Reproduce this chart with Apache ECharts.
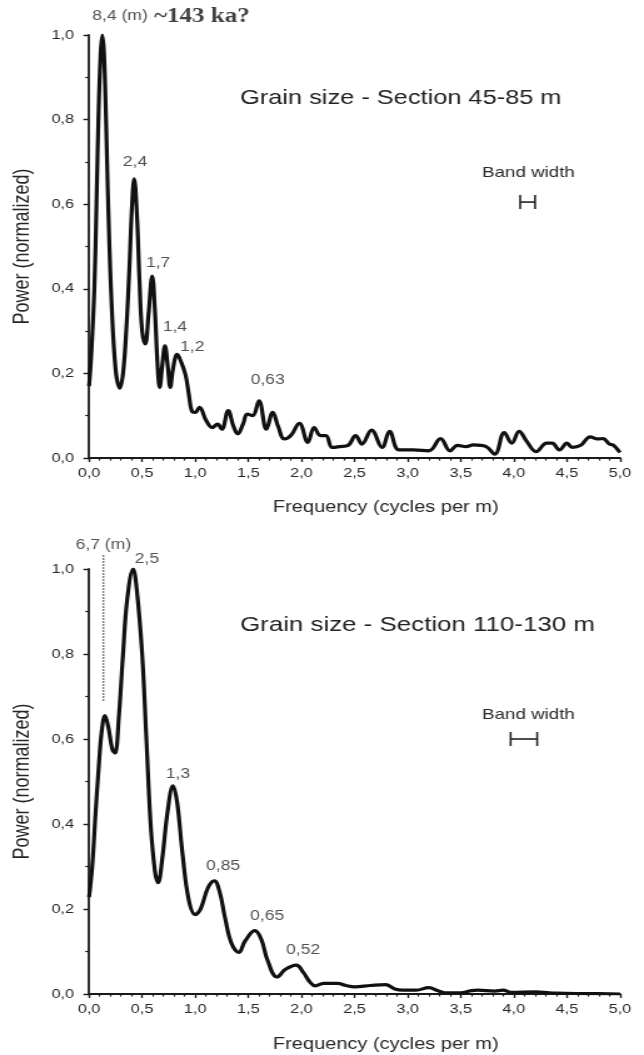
<!DOCTYPE html>
<html><head><meta charset="utf-8">
<script src="https://cdn.jsdelivr.net/npm/echarts@6/dist/echarts.min.js"></script>
<style>
html,body{margin:0;padding:0;background:#fff;overflow:hidden;}
#wrap{width:644px;height:1055px;overflow:hidden;}
#chart{width:515px;height:1055px;transform:scaleX(1.2505);transform-origin:0 0;}
</style></head><body><div id="wrap"><div id="chart"></div></div>
<script>
// ---------- DATA ----------
const freqTop = [0.00,0.02,0.05,0.07,0.09,0.11,0.125,0.14,0.16,0.18,0.21,0.25,0.29,0.32,0.35,0.38,0.405,0.425,0.45,0.475,0.50,0.53,0.56,0.595,0.62,0.645,0.665,0.69,0.715,0.74,0.765,0.79,0.83,0.87,0.91,0.94,0.97,1.00,1.04,1.10,1.16,1.21,1.25,1.31,1.36,1.40,1.45,1.49,1.54,1.60,1.67,1.73,1.78,1.84,1.90,1.98,2.06,2.12,2.18,2.23,2.29,2.36,2.44,2.51,2.57,2.66,2.76,2.83,2.92,3.05,3.20,3.31,3.40,3.47,3.55,3.62,3.74,3.82,3.91,3.98,4.05,4.12,4.21,4.31,4.36,4.43,4.50,4.55,4.63,4.72,4.79,4.84,4.90,4.94,5.00];
const powerTop = [0.17,0.24,0.40,0.60,0.82,0.96,1.00,0.96,0.80,0.60,0.38,0.21,0.165,0.20,0.30,0.45,0.60,0.66,0.58,0.42,0.30,0.27,0.34,0.43,0.35,0.22,0.167,0.22,0.265,0.22,0.167,0.21,0.245,0.225,0.195,0.15,0.11,0.108,0.12,0.09,0.072,0.08,0.068,0.112,0.075,0.057,0.08,0.104,0.10,0.135,0.068,0.108,0.075,0.045,0.053,0.082,0.037,0.072,0.053,0.053,0.025,0.027,0.03,0.053,0.033,0.066,0.025,0.063,0.019,0.019,0.017,0.046,0.017,0.03,0.027,0.031,0.027,0.009,0.06,0.035,0.063,0.04,0.015,0.035,0.035,0.019,0.035,0.025,0.03,0.05,0.045,0.046,0.033,0.03,0.013];

const freqBottom = [0.00,0.03,0.06,0.09,0.12,0.15,0.18,0.22,0.245,0.28,0.32,0.36,0.415,0.45,0.50,0.54,0.58,0.62,0.65,0.69,0.74,0.79,0.83,0.88,0.94,1.00,1.05,1.12,1.18,1.23,1.28,1.34,1.41,1.47,1.56,1.62,1.68,1.77,1.85,1.95,2.02,2.08,2.13,2.21,2.34,2.42,2.50,2.65,2.79,2.88,2.95,3.08,3.20,3.28,3.35,3.50,3.60,3.66,3.82,3.90,3.97,4.20,4.40,4.70,5.00];
const powerBottom = [0.228,0.30,0.42,0.53,0.62,0.655,0.63,0.575,0.567,0.65,0.80,0.93,1.00,0.95,0.80,0.60,0.40,0.29,0.262,0.32,0.43,0.49,0.45,0.33,0.22,0.187,0.20,0.25,0.266,0.24,0.18,0.12,0.098,0.125,0.149,0.13,0.08,0.04,0.058,0.068,0.05,0.028,0.019,0.025,0.025,0.02,0.017,0.02,0.022,0.012,0.009,0.009,0.015,0.008,0.003,0.003,0.008,0.009,0.007,0.009,0.004,0.005,0.002,0.001,0.0];

const peakLabelsTop = ['8,4 (m)', '2,4', '1,7', '1,4', '1,2', '0,63'];
const peakFreqTop   = [0.125, 0.425, 0.595, 0.715, 0.83, 1.60];
const peakPowerTop  = [1.00, 0.66, 0.43, 0.265, 0.245, 0.135];

const peakLabelsBottom = ['6,7 (m)', '2,5', '1,3', '0,85', '0,65', '0,52'];
const peakFreqBottom   = [0.135, 0.415, 0.79, 1.18, 1.56, 1.95];
const peakPowerBottom  = [1.035, 1.00, 0.49, 0.266, 0.149, 0.068];

const dottedLineBottom = [[0.135, 0.69], [0.135, 1.035]];
const bandWidthTop = [[4.06, 4.20, 0.605]];
const bandWidthBottom = [[3.97, 4.22, 0.60]];

const xTickInterval = 0.5;
const yTickInterval = 0.2;
const titles = ['Grain size - Section 45-85 m', 'Grain size - Section 110-130 m'];
const ageNote = '~143 ka?';

// ---------- STYLE ----------
const FONT = '"Liberation Sans", Arial, sans-serif';
const INK = '#1a1a1a';
const TXT = '#262626';
const fmt = v => v.toFixed(1).replace('.', ',');
const topLabelOffsets = [[-8, -18.5], [0.7, -17], [4.7, -13], [8, -19], [12, -7], [7, -21]];
const bottomLabelOffsets = [[0, -9], [11, -10], [4, -12], [7, -15], [10, -15], [5.6, -15]];

function zip(a, b) { return a.map((v, i) => [v, b[i]]); }

function xAxisOf(idx) {
  return {
    type: 'value', gridIndex: idx, min: 0, max: 5, interval: xTickInterval,
    axisLine: { show: true, onZero: false, lineStyle: { color: INK, width: 1.8 } },
    axisTick: { show: true, length: 4, lineStyle: { color: INK, width: 1.4 } },
    minorTick: { show: true, splitNumber: 5, length: 2.5, lineStyle: { color: INK, width: 1.2 } },
    splitLine: { show: false }, minorSplitLine: { show: false },
    axisLabel: { margin: 9, fontSize: 13, color: TXT, fontFamily: FONT, formatter: fmt, showMinLabel: true, showMaxLabel: true },
    name: 'Frequency (cycles per m)', nameLocation: 'middle', nameGap: idx === 0 ? 42 : 43,
    nameTextStyle: { fontSize: 16, color: TXT, fontFamily: FONT, padding: [0, 0, 0, 50] }
  };
}
function yAxisOf(idx) {
  return {
    type: 'value', gridIndex: idx, min: 0, max: 1, interval: yTickInterval,
    axisLine: { show: true, lineStyle: { color: INK, width: 1.8 } },
    axisTick: { show: true, length: 4.5, lineStyle: { color: INK, width: 1.4 } },
    minorTick: { show: true, splitNumber: 2, length: 3, lineStyle: { color: INK, width: 1.2 } },
    splitLine: { show: false }, minorSplitLine: { show: false },
    axisLabel: { margin: 12, fontSize: 13, color: TXT, fontFamily: FONT, formatter: fmt },
    name: 'Power (normalized)', nameLocation: 'middle', nameGap: 44,
    nameTextStyle: { fontSize: 18, color: TXT, fontFamily: FONT }
  };
}
function labelSeries(idx, labels, fs, ps, offsets, rich) {
  return {
    type: 'scatter', xAxisIndex: idx, yAxisIndex: idx, silent: true, clip: false,
    symbolSize: 1, itemStyle: { color: 'rgba(0,0,0,0)' }, z: 5,
    data: labels.map((t, i) => {
      const item = {
        value: [fs[i], ps[i]],
        label: { show: true, position: 'inside', offset: offsets[i], formatter: t,
          fontSize: 14, color: TXT, fontFamily: FONT, verticalAlign: 'middle' }
      };
      if (i === 0 && rich) {
        item.label.align = 'left';
        item.label.formatter = '{a|' + t + '}{b| ' + ageNote + '}';
        item.label.rich = {
          a: { fontSize: 14, color: TXT, fontFamily: FONT },
          b: { fontSize: 20, color: '#111', fontFamily: '"Liberation Serif", "Times New Roman", serif', fontWeight: 'bold' }
        };
      }
      return item;
    })
  };
}
function bandSeries(idx, data) {
  return {
    type: 'custom', xAxisIndex: idx, yAxisIndex: idx, silent: true, data: data,
    renderItem: function (params, api) {
      const a = api.coord([api.value(0), api.value(2)]);
      const b = api.coord([api.value(1), api.value(2)]);
      const h = 7;
      const st = { stroke: '#222', lineWidth: 1.6 };
      return { type: 'group', children: [
        { type: 'line', shape: { x1: a[0], y1: a[1], x2: b[0], y2: b[1] }, style: st },
        { type: 'line', shape: { x1: a[0], y1: a[1] - h, x2: a[0], y2: a[1] + h }, style: st },
        { type: 'line', shape: { x1: b[0], y1: b[1] - h, x2: b[0], y2: b[1] + h }, style: st }
      ] };
    }
  };
}

const chart = echarts.init(document.getElementById('chart'), null, { renderer: 'canvas' });
chart.setOption({
  animation: false,
  backgroundColor: '#fff',
  grid: [
    { left: 71.2, width: 424.6, top: 35, height: 423 },
    { left: 71.2, width: 424.6, top: 569, height: 425 }
  ],
  xAxis: [xAxisOf(0), xAxisOf(1)],
  yAxis: [yAxisOf(0), yAxisOf(1)],
  graphic: [
    { type: 'text', x: 192, y: 98, style: { text: titles[0], fontSize: 20.3, fontFamily: FONT, fill: '#222', align: 'left', verticalAlign: 'middle' } },
    { type: 'text', x: 192, y: 625, style: { text: titles[1], fontSize: 20.7, fontFamily: FONT, fill: '#222', align: 'left', verticalAlign: 'middle' } },
    { type: 'text', x: 422.6, y: 173, style: { text: 'Band width', fontSize: 15, fontFamily: FONT, fill: '#2a2a2a', align: 'center', verticalAlign: 'middle' } },
    { type: 'text', x: 422.6, y: 715, style: { text: 'Band width', fontSize: 15, fontFamily: FONT, fill: '#2a2a2a', align: 'center', verticalAlign: 'middle' } }
  ],
  series: [
    { type: 'line', xAxisIndex: 0, yAxisIndex: 0, data: zip(freqTop, powerTop), smooth: 0.4,
      symbol: 'none', lineStyle: { color: '#111', width: 3.2 }, z: 3 },
    { type: 'line', xAxisIndex: 1, yAxisIndex: 1, data: zip(freqBottom, powerBottom), smooth: 0.4,
      symbol: 'none', lineStyle: { color: '#111', width: 3.2 }, z: 3 },
    { type: 'line', xAxisIndex: 1, yAxisIndex: 1, data: dottedLineBottom, clip: false, symbol: 'none',
      lineStyle: { color: '#555', width: 1.5, type: [1.5, 1.5] }, z: 2 },
    labelSeries(0, peakLabelsTop, peakFreqTop, peakPowerTop, topLabelOffsets, true),
    labelSeries(1, peakLabelsBottom, peakFreqBottom, peakPowerBottom, bottomLabelOffsets, false),
    bandSeries(0, bandWidthTop),
    bandSeries(1, bandWidthBottom)
  ]
});
</script></body></html>
